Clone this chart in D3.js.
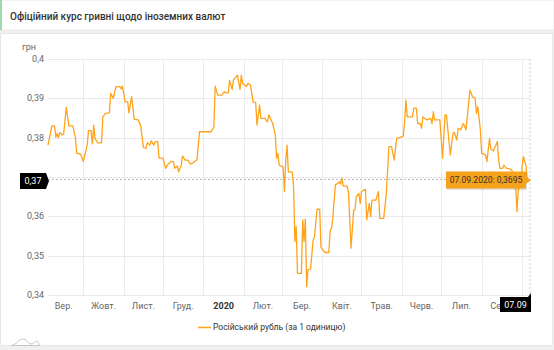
<!DOCTYPE html>
<html><head><meta charset="utf-8">
<script src="https://cdn.jsdelivr.net/npm/d3@7"></script>
<style>
html,body{margin:0;padding:0;background:#f0f0f0;}
svg{display:block;font-family:Roboto,"Noto Sans",sans-serif;}
</style></head>
<body><svg id="c" width="554" height="350"></svg>
<script>
const title = "Офіційний курс гривні щодо іноземних валют";
const unitLabel = "грн";
const seriesName = "Російський рубль (за 1 одиницю)";
const yTicks = [0.34, 0.35, 0.36, 0.37, 0.38, 0.39, 0.40];
const monthLabels = ["Вер.","Жовт.","Лист.","Груд.","2020","Лют.","Бер.","Квіт.","Трав.","Черв.","Лип.","Серп."];
const dates = ["2019-09-04","2019-09-07","2019-09-09","2019-09-10","2019-09-11","2019-09-12","2019-09-13","2019-09-15","2019-09-16","2019-09-18","2019-09-20","2019-09-23","2019-09-25","2019-09-26","2019-09-29",
"2019-10-01","2019-10-04","2019-10-05","2019-10-07","2019-10-08","2019-10-09","2019-10-10","2019-10-12","2019-10-15","2019-10-16","2019-10-18","2019-10-21","2019-10-22","2019-10-24","2019-10-26","2019-10-29","2019-10-30","2019-10-31",
"2019-11-02","2019-11-04","2019-11-05","2019-11-07","2019-11-09","2019-11-12","2019-11-14","2019-11-16","2019-11-18","2019-11-19","2019-11-21","2019-11-22","2019-11-24","2019-11-25","2019-11-27","2019-11-28",
"2019-12-01","2019-12-03","2019-12-05","2019-12-07","2019-12-09","2019-12-10","2019-12-12","2019-12-13","2019-12-15","2019-12-16","2019-12-18","2019-12-20","2019-12-22","2019-12-24","2019-12-27","2019-12-29",
"2020-01-07","2020-01-09","2020-01-10","2020-01-12","2020-01-15","2020-01-17","2020-01-18","2020-01-20","2020-01-21","2020-01-23","2020-01-24","2020-01-27","2020-01-29","2020-01-30","2020-01-31",
"2020-02-03","2020-02-04","2020-02-06","2020-02-08","2020-02-10","2020-02-11","2020-02-13","2020-02-14","2020-02-17","2020-02-19","2020-02-20","2020-02-23","2020-02-25","2020-02-26","2020-02-27","2020-02-28",
"2020-03-02","2020-03-03","2020-03-04","2020-03-05","2020-03-06","2020-03-09","2020-03-10","2020-03-11","2020-03-12","2020-03-13","2020-03-16","2020-03-17","2020-03-18","2020-03-19","2020-03-20","2020-03-21","2020-03-23","2020-03-25","2020-03-26","2020-03-28","2020-03-30","2020-03-31",
"2020-04-03","2020-04-06","2020-04-07","2020-04-08","2020-04-09","2020-04-11","2020-04-13","2020-04-14","2020-04-15","2020-04-16","2020-04-17","2020-04-20","2020-04-21","2020-04-23","2020-04-25","2020-04-26","2020-04-27","2020-04-29","2020-04-30",
"2020-05-01","2020-05-04","2020-05-05","2020-05-07","2020-05-08","2020-05-09","2020-05-12","2020-05-14","2020-05-15","2020-05-18","2020-05-20","2020-05-22","2020-05-24","2020-05-26","2020-05-28","2020-05-30",
"2020-06-02","2020-06-03","2020-06-04","2020-06-05","2020-06-09","2020-06-10","2020-06-12","2020-06-13","2020-06-15","2020-06-16","2020-06-17","2020-06-20","2020-06-23","2020-06-24","2020-06-25","2020-06-26","2020-06-30",
"2020-07-02","2020-07-04","2020-07-05","2020-07-08","2020-07-10","2020-07-11","2020-07-13","2020-07-14","2020-07-16","2020-07-18","2020-07-20","2020-07-23","2020-07-25","2020-07-27","2020-07-28","2020-07-29","2020-07-31",
"2020-08-01","2020-08-04","2020-08-05","2020-08-07","2020-08-08","2020-08-10","2020-08-13","2020-08-14","2020-08-15","2020-08-17","2020-08-18","2020-08-20","2020-08-21","2020-08-24","2020-08-27","2020-08-28","2020-08-29","2020-08-31",
"2020-09-01","2020-09-02","2020-09-04","2020-09-05","2020-09-06","2020-09-07"];
const values = [0.3781,0.3830,0.3830,0.3801,0.3811,0.3800,0.3813,0.3807,0.3810,0.3877,0.3830,0.3830,0.3800,0.3760,0.3758,
0.3739,0.3781,0.3818,0.3818,0.3784,0.3832,0.3798,0.3787,0.3787,0.3853,0.3862,0.3863,0.3913,0.3900,0.3930,0.3930,0.3924,0.3931,
0.3891,0.3891,0.3863,0.3904,0.3847,0.3845,0.3830,0.3775,0.3773,0.3787,0.3781,0.3792,0.3781,0.3790,0.3790,0.3748,
0.3748,0.3722,0.3733,0.3739,0.3739,0.3722,0.3728,0.3713,0.3730,0.3753,0.3743,0.3743,0.3733,0.3736,0.3743,0.3815,
0.3815,0.3828,0.3931,0.3908,0.3908,0.3917,0.3914,0.3914,0.3945,0.3923,0.3947,0.3959,0.3923,0.3959,0.3938,
0.3930,0.3938,0.3934,0.3891,0.3889,0.3832,0.3883,0.3849,0.3849,0.3840,0.3858,0.3836,0.3807,0.3748,0.3760,0.3730,
0.3726,0.3663,0.3743,0.3781,0.3713,0.3713,0.3675,0.3536,0.3574,0.3455,0.3455,0.3591,0.3536,0.3593,0.3421,0.3464,0.3466,0.3540,0.3548,0.3618,0.3618,0.3521,
0.3508,0.3508,0.3565,0.3569,0.3595,0.3680,0.3684,0.3688,0.3682,0.3697,0.3677,0.3677,0.3663,0.3519,0.3616,0.3616,0.3650,0.3658,0.3633,
0.3663,0.3669,0.3591,0.3633,0.3599,0.3641,0.3641,0.3663,0.3595,0.3595,0.3658,0.3777,0.3777,0.3743,0.3798,0.3800,
0.3804,0.3840,0.3896,0.3853,0.3853,0.3875,0.3875,0.3836,0.3836,0.3824,0.3853,0.3845,0.3849,0.3836,0.3866,0.3845,0.3845,
0.3748,0.3858,0.3858,0.3756,0.3810,0.3814,0.3794,0.3824,0.3820,0.3836,0.3820,0.3921,0.3904,0.3900,0.3862,0.3879,0.3820,
0.3760,0.3756,0.3739,0.3798,0.3771,0.3766,0.3790,0.3743,0.3722,0.3722,0.3730,0.3722,0.3722,0.3718,0.3682,0.3612,0.3666,0.3683,
0.3730,0.3752,0.3727,0.3688,0.3688,0.3695];

const parse = d3.timeParse("%Y-%m-%d");
const data = dates.map((d,i)=>({date:parse(d), value:values[i]}));
const fmtNum = v => String(v).replace(".", ",");

const svg = d3.select("#c");
// backgrounds
svg.append("rect").attr("x",0).attr("y",0).attr("width",554).attr("height",30).attr("fill","#fff").attr("stroke","#e8e8e8");
svg.append("rect").attr("x",0).attr("y",0).attr("width",2).attr("height",30).attr("fill","#9fd8b0");
svg.append("rect").attr("x",0.5).attr("y",33.5).attr("width",552).attr("height",312).attr("fill","#fff").attr("stroke","#e8e8e8");
svg.append("text").attr("x",10).attr("y",19.5).attr("font-size",10).attr("font-weight",500).attr("fill","#333").text(title);

const x = d3.scaleTime().domain([parse("2019-09-04"), parse("2020-09-07")]).range([48, 530]);
const y = d3.scaleLinear().domain([0.34, 0.40]).range([295, 59]);

// horizontal grid
svg.append("g").selectAll("line").data(yTicks).join("line")
  .attr("x1",48).attr("x2",530).attr("y1",d=>Math.round(y(d))+0.5).attr("y2",d=>Math.round(y(d))+0.5)
  .attr("stroke","#e9e9e9");
// vertical grid at month starts
const monthStarts = d3.timeMonth.range(parse("2019-09-01"), parse("2020-09-02"));
svg.append("g").selectAll("line").data(monthStarts.filter(d=>d>x.domain()[0])).join("line")
  .attr("x1",d=>Math.round(x(d))+0.5).attr("x2",d=>Math.round(x(d))+0.5).attr("y1",59).attr("y2",295)
  .attr("stroke","#ececec");

// y labels
svg.append("g").selectAll("text").data(yTicks).join("text")
  .attr("x",44).attr("y",d=>y(d)).attr("dy","0.35em").attr("text-anchor","end")
  .attr("font-size",9).attr("fill","#666").text(d=>fmtNum(+d.toFixed(2)));
svg.append("text").attr("x",22).attr("y",50).attr("font-size",9).attr("fill","#666").text(unitLabel);

// x labels at month middles
const months = monthStarts.slice(0,12);
svg.append("g").selectAll("text").data(months).join("text")
  .attr("x",d=>(x(d)+x(d3.timeMonth.offset(d,1)))/2).attr("y",306).attr("dy","0.35em")
  .attr("text-anchor","middle").attr("font-size",9)
  .attr("font-weight",(d,i)=>monthLabels[i]==="2020"?700:400)
  .attr("fill",(d,i)=>monthLabels[i]==="2020"?"#333":"#666")
  .text((d,i)=>monthLabels[i]);

// crosshairs
const last = data[data.length-1];
const px = x(last.date), py = y(last.value);
svg.append("line").attr("x1",48).attr("x2",px).attr("y1",py+0.5).attr("y2",py+0.5)
  .attr("stroke","#bbb").attr("stroke-dasharray","2,2");
svg.append("line").attr("x1",px).attr("x2",px).attr("y1",59).attr("y2",295)
  .attr("stroke","#ccc").attr("stroke-dasharray","2,2");

// line
const line = d3.line().x(d=>x(d.date)).y(d=>y(d.value));
svg.append("path").datum(data).attr("d",line).attr("fill","none")
  .attr("stroke","#FFA31A").attr("stroke-width",1.3).attr("stroke-linejoin","round");

// tooltip
const tw = 80, th = 17;
const tx = px - 4 - tw, ty = py - th/2 + 1;
svg.append("rect").attr("x",tx+1).attr("y",ty+1.5).attr("width",tw).attr("height",th).attr("fill","rgba(0,0,0,0.12)");
svg.append("path").attr("d",`M${tx},${ty}H${tx+tw}V${py-3}L${px},${py+1}L${tx+tw},${py+5}V${ty+th}H${tx}Z`)
  .attr("fill","#F7A21B");
svg.append("text").attr("x",tx+tw/2).attr("y",ty+th/2).attr("dy","0.35em").attr("text-anchor","middle")
  .attr("font-size",8.5).attr("fill","#333")
  .text(d3.timeFormat("%d.%m.%Y")(last.date)+": "+fmtNum(last.value));

// y crosshair label
const ly = py + 2;
svg.append("path").attr("d",`M20,${ly-8}H46L49,${ly}L46,${ly+8}H20Z`).attr("fill","#000");
svg.append("text").attr("x",33).attr("y",ly).attr("dy","0.35em").attr("text-anchor","middle")
  .attr("font-size",9).attr("fill","#fff").text(fmtNum(+last.value.toFixed(2)));

// x crosshair label
svg.append("path").attr("d",`M500,297H${px-2}L${px+1},293V312H500Z`).attr("fill","#000");
svg.append("text").attr("x",515.5).attr("y",305).attr("dy","0.35em").attr("text-anchor","middle")
  .attr("font-size",9).attr("fill","#fff").text(d3.timeFormat("%d.%m")(last.date));

// legend
svg.append("line").attr("x1",198).attr("x2",211).attr("y1",327.5).attr("y2",327.5).attr("stroke","#FFA31A").attr("stroke-width",1.5);
svg.append("text").attr("x",213).attr("y",327.5).attr("dy","0.35em").attr("font-size",8.5).attr("fill","#333").text(seriesName);

// small logo
svg.append("path").attr("d","M12,345 C16,345 19,339 23,339 C27,339 28,344 31,344 C34,344 35,341 37,341 L40,345 M12,345.5 H40")
  .attr("fill","none").attr("stroke","#bbb").attr("stroke-width",0.8);
</script></body></html>
